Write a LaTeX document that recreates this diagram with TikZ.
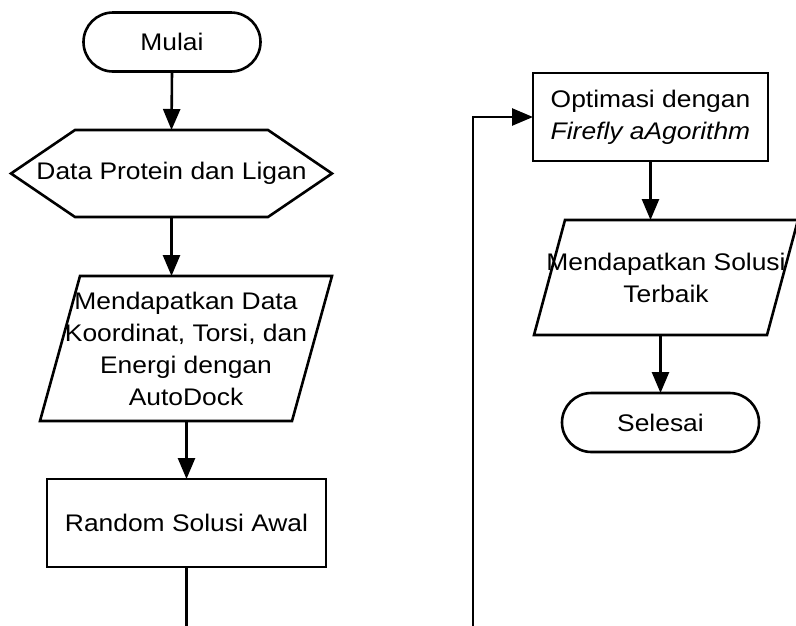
\documentclass[tikz,border=0pt]{standalone}
\usepackage{fontspec}
\setmainfont[FakeStretch=1.1]{Liberation Sans}
\usetikzlibrary{arrows.meta,shapes.misc,calc}
\begin{document}
\begin{tikzpicture}[x=1pt,y=-1pt,
  line width=2.6pt,
  txt/.style={font=\fontsize{24}{32}\selectfont, align=center, inner sep=0pt, outer sep=0pt},
  term/.style={txt, draw, rounded rectangle},
  proc/.style={txt, draw, rectangle},
  arr/.style={-{Triangle[length=21pt,width=17pt]}}]
\fill[white] (0,0) rectangle (796,625);
\useasboundingbox (0,0) rectangle (796,625);

% left column
\node[term, minimum width=177pt, minimum height=59pt] (start) at (172,42) {Mulai};

\node[txt, minimum width=321pt, minimum height=87pt] (hex) at (171.5,173.5) {Data Protein dan Ligan};
\draw (hex.west) -- ($(hex.north west)+(64,0)$) -- ($(hex.north east)+(-64,0)$) -- (hex.east)
  -- ($(hex.south east)+(-64,0)$) -- ($(hex.south west)+(64,0)$) -- cycle;

\node[txt, minimum width=292pt, minimum height=145pt] (p1) at (186,348.5)
  {Mendapatkan Data\\Koordinat, Torsi, dan\\Energi dengan\\AutoDock};
\draw ($(p1.north west)+(40,0)$) -- (p1.north east) -- ($(p1.south east)+(-40,0)$) -- (p1.south west) -- cycle;

\node[proc, minimum width=279pt, minimum height=88pt] (rand) at (186.5,523) {Random Solusi Awal};

\coordinate (c1) at (186.5,630);

% right column
\node[proc, minimum width=235pt, minimum height=88pt] (opt) at (650.5,117)
  {Optimasi dengan\\\textit{Firefly aAgorithm}};

\node[txt, minimum width=264pt, minimum height=115pt] (p2) at (666,277.5)
  {Mendapatkan Solusi\\Terbaik};
\draw ($(p2.north west)+(31,0)$) -- (p2.north east) -- ($(p2.south east)+(-31,0)$) -- (p2.south west) -- cycle;

\node[term, minimum width=197pt, minimum height=59pt] (end) at (660.5,422.5) {Selesai};

\coordinate (c2) at (473,630);

% connectors
\draw[arr] (start.south) -- (hex.north);
\draw[arr] (hex.south) -- (hex.south |- p1.north);
\draw[arr] (rand.north |- p1.south) -- (rand.north);
\draw (rand.south) -- (c1);
\draw[arr] (c2) |- (opt.west);
\draw[arr] (opt.south) -- (opt.south |- p2.north);
\draw[arr] (end.north |- p2.south) -- (end.north);
\end{tikzpicture}
\end{document}
